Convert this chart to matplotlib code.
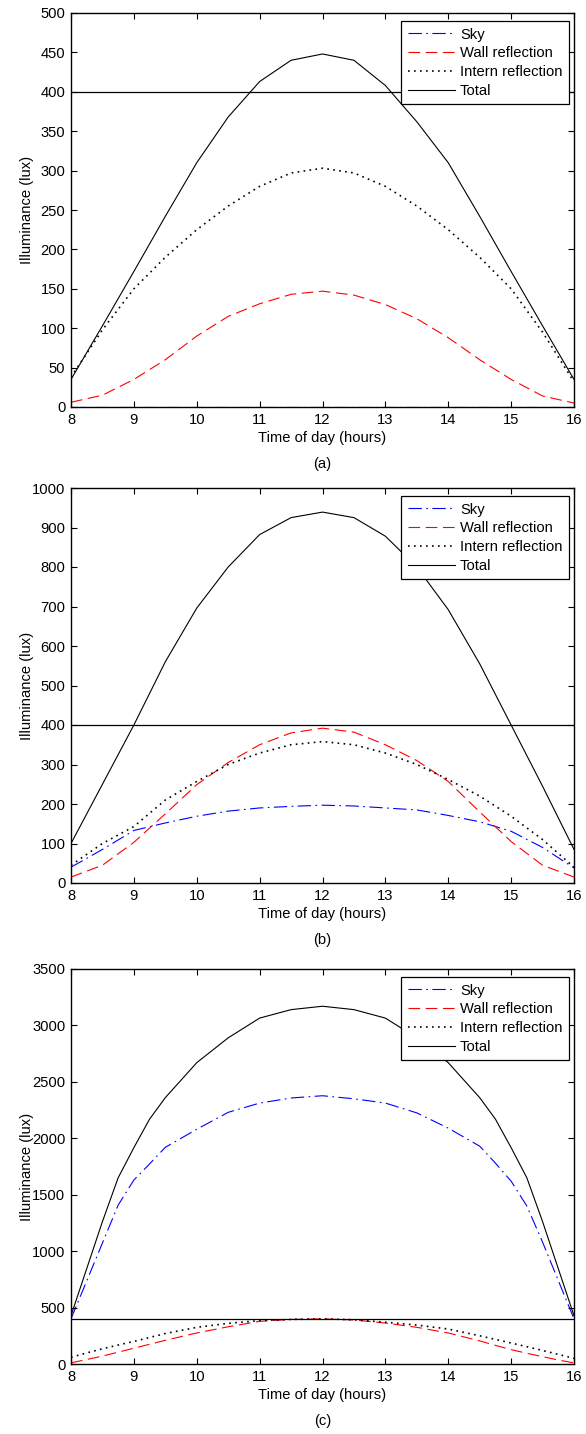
import matplotlib
matplotlib.use("Agg")
import matplotlib.pyplot as plt
import numpy as np

plt.rcParams['font.family'] = ['Liberation Sans', 'DejaVu Sans']
plt.rcParams['font.size'] = 10.6

hours = [8, 8.5, 9, 9.5, 10, 10.5, 11, 11.5, 12, 12.5, 13, 13.5, 14, 14.5, 15, 15.5, 16]
hours_c = [8, 8.25, 8.5, 8.75, 9, 9.25, 9.5, 10, 10.5, 11, 11.5, 12,
           12.5, 13, 13.5, 14, 14.5, 14.75, 15, 15.25, 15.5, 15.75, 16]

# panel (a)
sky_a = [0] * 17
wall_a = [6, 15, 35, 60, 90, 115, 131, 143, 147, 142, 130, 112, 88, 60, 35, 14, 5]
intern_a = [38, 98, 150, 190, 225, 255, 280, 297, 303, 297, 280, 255, 225, 190, 150, 95, 32]
total_a = [35, 103, 172, 242, 310, 368, 413, 440, 448, 440, 408, 362, 310, 242, 172, 103, 35]

# panel (b)
sky_b = [40, 85, 133, 152, 169, 182, 190, 194, 197, 195, 190, 185, 171, 155, 131, 90, 38]
wall_b = [15, 45, 103, 175, 249, 305, 350, 380, 392, 382, 350, 310, 257, 180, 105, 45, 15]
intern_b = [45, 100, 143, 210, 257, 300, 329, 350, 358, 350, 329, 300, 262, 220, 169, 110, 40]
total_b = [100, 250, 400, 560, 696, 800, 882, 925, 939, 925, 878, 800, 692, 555, 400, 245, 85]

# panel (c)
sky_c = [400, 736, 1072, 1408, 1630, 1773, 1920, 2080, 2230, 2312, 2357, 2377,
         2350, 2312, 2225, 2090, 1930, 1780, 1620, 1400, 1080, 740, 400]
wall_c = [10, 40, 70, 105, 140, 175, 210, 275, 330, 378, 395, 400,
          390, 363, 325, 275, 205, 165, 127, 95, 65, 35, 10]
intern_c = [60, 98, 135, 168, 200, 235, 270, 325, 360, 385, 395, 400,
            392, 370, 345, 310, 250, 218, 186, 153, 120, 85, 50]
total_c = [428, 845, 1262, 1650, 1917, 2170, 2360, 2670, 2890, 3065, 3140, 3170,
           3140, 3065, 2890, 2670, 2360, 2170, 1917, 1650, 1262, 845, 428]

threshold = 400
panels = [
    ("(a)", hours, sky_a, wall_a, intern_a, total_a, 500, 50, 13, 407),
    ("(b)", hours, sky_b, wall_b, intern_b, total_b, 1000, 100, 488, 883),
    ("(c)", hours_c, sky_c, wall_c, intern_c, total_c, 3500, 500, 969, 1364),
]

W, H = 586, 1434
left, right = 71, 574
fig = plt.figure(figsize=(W / 100, H / 100), dpi=100)

for label, x, sky, wall, intern, total, ymax, ystep, top, bottom in panels:
    aw, ah = right - left, bottom - top
    ax = fig.add_axes([left / W, 1 - bottom / H, aw / W, ah / H])
    ax.plot(x, sky, color="#0000ff", linestyle="-.", linewidth=0.8,
            dashes=(12, 4, 1.5, 4), label="Sky", zorder=1)
    ax.plot(x, wall, color="#ff0000", linestyle="--", linewidth=0.8,
            dashes=(10.5, 5), label="Wall reflection")
    ax.plot(x, intern, color="black", linestyle=":", linewidth=1.2,
            dashes=(1, 2.6), label="Intern reflection")
    ax.plot(x, total, color="black", linewidth=0.8, label="Total")
    ax.axhline(threshold, color="black", linewidth=0.9)

    ax.set_xlim(8, 16)
    ax.set_ylim(0, ymax)
    ax.set_xticks(np.arange(8, 17, 1))
    ax.set_yticks(np.arange(0, ymax + 1, ystep))
    ax.tick_params(direction="in", length=4, width=0.8, top=True, right=True, pad=4)
    for s in ax.spines.values():
        s.set_linewidth(1.0)
        s.set_zorder(3)
    ax.set_xlabel("Time of day (hours)")
    ax.xaxis.set_label_coords(0.5, -24 / ah)
    ax.set_ylabel("Illuminance (lux)")
    ax.yaxis.set_label_coords(-37 / aw, 0.5)

    leg = ax.legend(loc="upper right", bbox_to_anchor=(1 - 5 / aw, 1 - 8 / ah),
                    borderaxespad=0, fancybox=False, framealpha=1, edgecolor="black",
                    handlelength=3.2, labelspacing=0.32, handletextpad=0.35,
                    borderpad=0.45)
    leg.get_frame().set_linewidth(0.9)

    fig.text((left + right) / 2 / W, 1 - (bottom + 57) / H, label,
             ha="center", va="center")

fig.savefig("out.png", dpi=100)
